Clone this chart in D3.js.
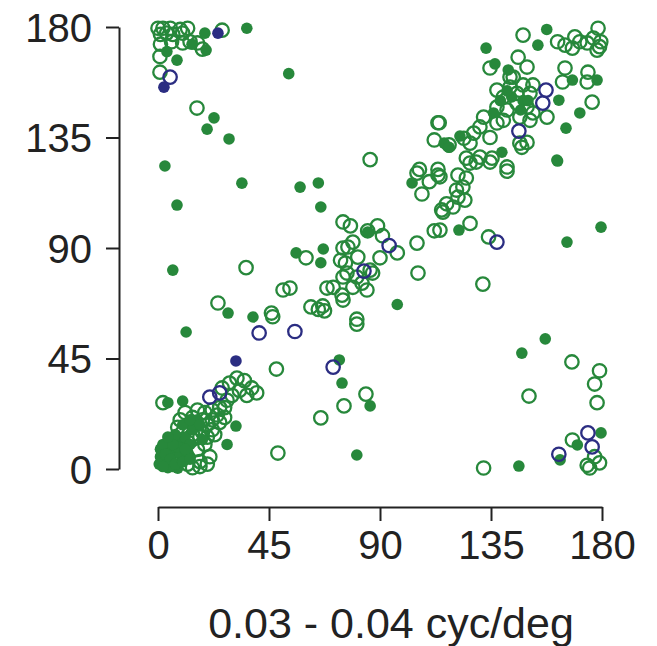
<!DOCTYPE html>
<html>
<head>
<meta charset="utf-8">
<script src="https://cdn.jsdelivr.net/npm/d3@7"></script>
<style>
  body { margin: 0; background: #fff; }
  text { font-family: "Liberation Sans", Arial, sans-serif; fill: #222; }
</style>
</head>
<body>
<div id="chart"></div>
<script>
const width = 657;
const height = 646;

const ticks = [0, 45, 90, 135, 180];
const xTitle = "0.03 - 0.04 cyc/deg";

// [x, y] pairs
const greenOpen = [
  [0,179.5],[2,179.5],[5,179.5],[1,177],[3.5,177.5],[6,177],[9,179],[12,179.5],[10,177.5],
  [13,174],[16,173.5],[1,173],[5.5,174],[10,173.5],[18,171],[0.8,168],[0.8,161.6],[26,178.7],[15.8,147],
  [35.7,82],[50.7,72.9],[24.3,67.6],[46,63.5],[46.5,62],
  [48,40.7],[26,33],[29,35],[32,37],[35,36],[38,33],[40,31],[33,32],[30,30],[36,30],[28,28],[27,25],[2,27],[48.6,6.5],
  [105,120.5],[107,112],[113.5,119.7],[110,117],[115,105.5],[117,108],[112,97],[105,92],[105.4,79.8],
  [75,100.6],[78,99],[85,97],[89,99],[91,95],[97,88],[90,86],[60,86],
  [75,90],[77,90.4],[79,92.4],[81,86.3],[76,83.9],[74,85],[76.6,79.8],[80.6,78.2],[86,81],[87,79.8],
  [79,74],[84.7,72.9],[82.7,75.7],[75,78.2],[71,74],[68.5,73.7],[74.6,70.8],[75,68.8],
  [62,66],[65,65],[67.5,64.4],[66.8,66.4],[80.6,61],[53.5,73.7],[86,126],
  [80.6,59],[84.3,30.5],[75.4,25.7],[66,20.8],
  [113.5,141],[112,134],[106,122],[113.5,122],
  [178.4,179.5],[148,176.7],[134.6,163.3],[146,167.7],[149.6,163.7],[142.7,159.6],[165,163.3],[164,157.6],
  [174.3,161.6],[174,157.6],[176,149.4],[157.7,143.3],
  [162,174],[165,172.6],[169,176],[171,174],[174,173.5],[176.5,175.5],[179,172],[179.5,174],[178,170.6],[168,171.4],
  [118,132],[124,134.7],[128,136.8],[130.5,139.3],[132,143.3],[126.5,132.7],[134.6,135],[137.4,140.9],
  [125,126.6],[130.5,127],[135.4,126.6],[141.5,123],[147.5,131],[149.6,133],[114,141],[146.7,132.7],
  [137.4,154.3],[140,151.5],[142.7,155.5],[145.5,153],[148,156.4],[150.8,153],[137.4,147.4],[141.5,146.2],
  [145.5,149],[149.6,147.4],[152,145],[140,142],[146.7,143.3],[150.8,142],[144,159.6],[152,156.4],
  [114.3,119],[121.6,119.7],[125,118.5],[123.6,114.8],[121,113.6],[121.6,110.7],[124.4,109.5],[119.6,106.7],
  [115.5,104.6],[114.3,97.3],[129,125],[134.6,125],[126.5,124.6],[141.5,121.3],[126.5,100],[134,94.5],[131.7,75.3],
  [167.8,43.6],[179,40],[177,34.6],[178,27],[150.4,29.7],[132,0.4],[168,11.8],[174,1.5],[179,2.5],[175,0.4],[177,5],
  [3,3],[5,6],[8,4],[10,9],[12,5],[6,12],[14,12],[16,8],[18,15],[20,18],[22,20],[24,22],[15,18],[10,15],
  [8,17],[4,9],[2,8],[19,10],[21,5],[17,3],[12,2],[25,25],[23,14],[14,21],[16,24],[19,23],[9,20],[11,23],[20,2],
  [14,14],[17,13],[20,13],[22,16],[25,19],[27,21],[22,24],[18,20],[12,11],[14,0.5],[17,1]
];

const greenFilled = [
  [36,179.5],[19,177.5],[13.8,173],[19.5,170.6],[3.6,170],[7.7,166.5],[53,161],[22.7,143],[19.9,138.4],
  [28.8,134.4],[2.8,123.4],[34,116.4],[57.6,114.8],[65,116.5],[66,106.7],[7.7,107.5],[6,81],[56,88],
  [67,89.6],[66,84],[85,96.5],[28.4,63.5],[38.5,61.9],[11.4,55.8],[4,27],[10,27.7],[31.6,17.5],[28,10],
  [73.5,44.4],[74.6,35],[86,25.7],[80.6,5.7],[97,67],[103,116.5],[116,132.7],
  [157.6,179],[154,172.6],[133,171.4],[136.6,165],[142,162.5],[168,158.4],[178,158.4],[162.5,150.2],
  [171,145],[165.4,138.8],[161.7,125.8],[139.4,129],[122.4,135.6],[118,131],[162,125.4],[122,97.3],
  [165.8,92.4],[179.6,98.5],[157,53],[147.5,47.2],[146.3,1.2],[179.6,14.7],[170,9.8],[163,3.7],
  [138.8,150],[143.4,151.5],[148,150],[141.5,154],[147,146.2],[136,145],[150,150],
  [1,5],[2,4],[4,3],[6,7],[3,10],[7,9],[9,11],[5,2],[11,13],[13,10],[7,14],[10,18],[14,16],[16,20],
  [18,12],[12,7],[6,1],[4,0.5],[8,0.3],[13,20],[17,18],
  [0.5,2],[1,8],[2,10],[3,6],[5,4],[7,2],[9,6],[8,9],[2,1],[10,3],[6,10],[4,13],[11,8],[13,4]
];

const navyOpen = [
  [4.9,159.6],[41,55.4],[55.5,56],[21,29.3],[25,31],[71,41.5],[93.7,91],[83.5,80.6],
  [157.3,154.3],[156,149],[146.3,137.6],[137.4,92.4],[174.3,14.7],[176,9],[162.5,6]
];

const navyFilled = [[24.3,177.5],[2.4,155.5],[31.6,44]];

const green = "#27883b";
const navy = "#2b2d82";

const svg = d3.select("#chart")
  .append("svg")
  .attr("width", width)
  .attr("height", height);

const xScale = d3.scaleLinear().domain([0, 180]).range([158, 602]);
const yScale = d3.scaleLinear().domain([0, 180]).range([469, 27]);

const xAxis = svg.append("g")
  .attr("transform", "translate(0, 507)")
  .call(d3.axisBottom(xScale).tickValues(ticks).tickSize(14).tickSizeOuter(0).tickPadding(10));

const yAxis = svg.append("g")
  .attr("transform", "translate(119, 0)")
  .call(d3.axisLeft(yScale).tickValues(ticks).tickSize(13).tickSizeOuter(0).tickPadding(14));

[xAxis, yAxis].forEach(a => {
  a.selectAll("path, line").attr("stroke", "#222").attr("stroke-width", 2);
  a.selectAll("text").style("font-size", "40px").attr("fill", "#222");
});
yAxis.selectAll("text").attr("dy", "0.36em");

svg.append("text")
  .attr("x", 391)
  .attr("y", 638)
  .attr("text-anchor", "middle")
  .style("font-size", "43px")
  .text(xTitle);

function drawOpen(data, color) {
  svg.append("g").selectAll("circle")
    .data(data)
    .enter()
    .append("circle")
    .attr("cx", d => xScale(d[0]))
    .attr("cy", d => yScale(d[1]))
    .attr("r", 6.7)
    .attr("fill", "none")
    .attr("stroke", color)
    .attr("stroke-width", 2.3);
}

function drawFilled(data, color) {
  svg.append("g").selectAll("circle")
    .data(data)
    .enter()
    .append("circle")
    .attr("cx", d => xScale(d[0]))
    .attr("cy", d => yScale(d[1]))
    .attr("r", 5.8)
    .attr("fill", color);
}

drawOpen(greenOpen, green);
drawFilled(greenFilled, green);
drawOpen(navyOpen, navy);
drawFilled(navyFilled, navy);
</script>
</body>
</html>
